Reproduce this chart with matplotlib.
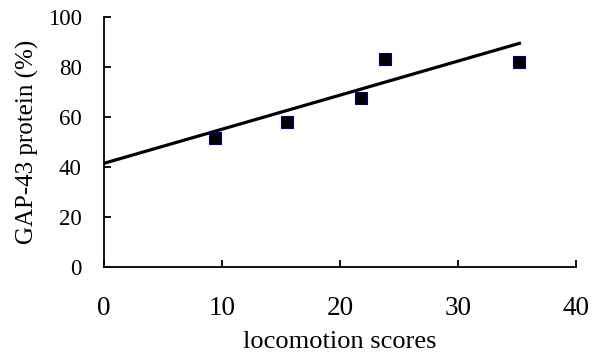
import matplotlib
matplotlib.use("Agg")
import matplotlib.pyplot as plt

# data
locomotion = [9.4, 15.5, 21.8, 23.8, 35.2]
gap43 = [51.5, 58.1, 67.5, 83.3, 81.9]

# trendline end points as drawn in the original
trend_x = [0, 35.2]
trend_y = [41.5, 89.5]

xticks = [0, 10, 20, 30, 40]
yticks = [0, 20, 40, 60, 80, 100]

plt.rcParams['font.family'] = ['Liberation Serif', 'DejaVu Serif']

fig = plt.figure(figsize=(6.13, 3.64), dpi=100)
ax = fig.add_axes([0.1697, 0.2665, 0.7700, 0.6865])

ax.plot(trend_x, trend_y, color='black', linewidth=2.3, zorder=2)
ax.plot(locomotion, gap43, linestyle='none', marker='s', markersize=8,
        markerfacecolor='black', markeredgecolor='#000080',
        markeredgewidth=0.8, zorder=3)

ax.set_xlim(0, 40)
ax.set_ylim(0, 100)
ax.set_xticks(xticks)
ax.set_yticks(yticks)

for side in ('top', 'right'):
    ax.spines[side].set_visible(False)
for side in ('left', 'bottom'):
    ax.spines[side].set_linewidth(1.3)

ax.tick_params(axis='both', direction='in', length=5, width=1.3)
ax.tick_params(axis='x', labelsize=19.5, pad=21)
ax.tick_params(axis='y', labelsize=16.5, pad=16)

ax.set_xlabel("locomotion scores", fontsize=19, labelpad=7)
ax.set_ylabel("GAP-43 protein (%)", fontsize=18, labelpad=6)

fig.savefig("out.png", dpi=100)
